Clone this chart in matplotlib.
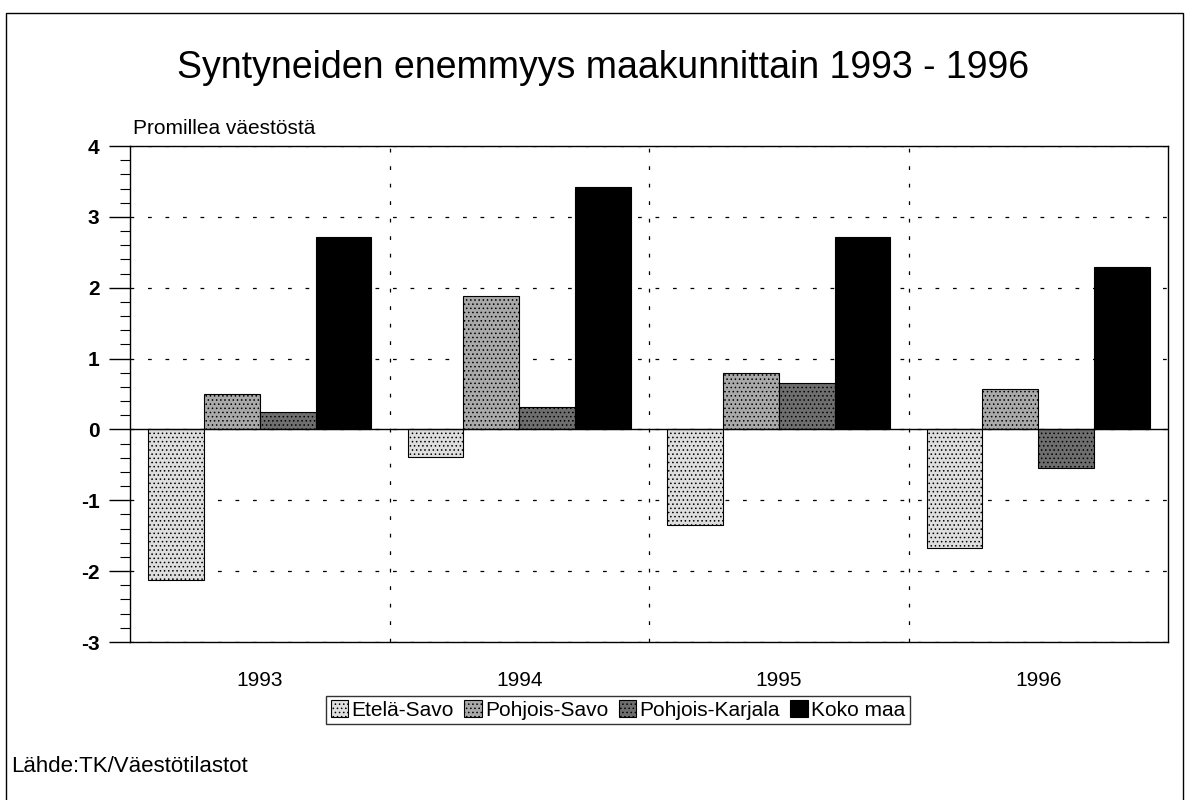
import matplotlib
matplotlib.use("Agg")
import matplotlib.pyplot as plt
import numpy as np
from matplotlib.ticker import MultipleLocator, FixedLocator

plt.rcParams['font.family'] = ['Liberation Sans', 'DejaVu Sans']
plt.rcParams['hatch.linewidth'] = 0.6
plt.rcParams['axes.unicode_minus'] = False

years = ["1993", "1994", "1995", "1996"]
series_names = ["Etelä-Savo", "Pohjois-Savo", "Pohjois-Karjala", "Koko maa"]
etela_savo = [-2.12, -0.39, -1.35, -1.68]
pohjois_savo = [0.50, 1.89, 0.80, 0.57]
pohjois_karjala = [0.24, 0.32, 0.65, -0.55]
koko_maa = [2.72, 3.42, 2.71, 2.29]
series_values = [etela_savo, pohjois_savo, pohjois_karjala, koko_maa]

face_colors = ["#dedede", "#a9a9a9", "#6e6e6e", "#000000"]
hatches = ["....", "....", "....", None]

W, H = 1186, 800
fig = plt.figure(figsize=(W / 100, H / 100), dpi=100)

# outer frame of the chart
frame = plt.Rectangle((6 / W, -0.01), (1183 - 6) / W, 1 - 13 / H + 0.01,
                      transform=fig.transFigure, fill=False, edgecolor="black",
                      linewidth=1.0)
fig.patches.append(frame)

ax = fig.add_axes([130 / W, 1 - 642 / H, (1168 - 130) / W, (642 - 146) / H])

x = np.arange(len(years))
bw = 0.215
offsets = (np.arange(len(series_names)) - 1.5) * bw
handles = []
for i, (name, vals) in enumerate(zip(series_names, series_values)):
    b = ax.bar(x + offsets[i], vals, width=bw, color=face_colors[i],
               edgecolor="black", linewidth=0.8, hatch=hatches[i],
               label=name, zorder=3)
    handles.append(b)

ax.set_xlim(-0.5, len(years) - 0.5)
ax.set_ylim(-3, 4)

ax.axhline(0, color="black", linewidth=1.0, zorder=4)

ax.yaxis.set_major_locator(MultipleLocator(1))
ax.yaxis.set_minor_locator(MultipleLocator(0.2))
ax.tick_params(axis="y", which="major", length=15, width=1, direction="out",
               labelsize=15, pad=7)
ax.tick_params(axis="y", which="minor", length=7, width=0.8, direction="out")
for lab in ax.get_yticklabels():
    lab.set_fontweight("bold")

ax.set_xticks(x)
ax.set_xticklabels(years, fontsize=15)
ax.tick_params(axis="x", which="major", length=0, pad=21)
ax.xaxis.set_minor_locator(FixedLocator([0.5, 1.5, 2.5]))
ax.tick_params(axis="x", which="minor", length=0)

dash = (0, (3, 11))
ax.grid(True, axis="y", which="major", color="black", linestyle=dash,
        linewidth=0.9, zorder=0)
ax.grid(True, axis="x", which="minor", color="black", linestyle=dash,
        linewidth=0.9, zorder=0)

for s in ax.spines.values():
    s.set_linewidth(1.0)
    s.set_color("black")

fig.text(603 / W, 1 - 68 / H, "Syntyneiden enemmyys maakunnittain 1993 - 1996",
         ha="center", va="center", fontsize=27)
fig.text(133 / W, 1 - 129 / H, "Promillea väestöstä", ha="left", va="center",
         fontsize=15)
fig.text(11 / W, 1 - 766 / H, "Lähde:TK/Väestötilastot", ha="left",
         va="center", fontsize=16)

leg = fig.legend(handles=handles, labels=series_names, loc="center",
                 bbox_to_anchor=(618 / W, 1 - 710 / H), ncol=4, frameon=True,
                 fancybox=False, edgecolor="black", fontsize=15,
                 handlelength=0.85, handleheight=0.85, handletextpad=0.15,
                 columnspacing=0.5, borderpad=0.2, borderaxespad=0)
leg.get_frame().set_linewidth(1.0)

fig.savefig("out.png", dpi=100)
